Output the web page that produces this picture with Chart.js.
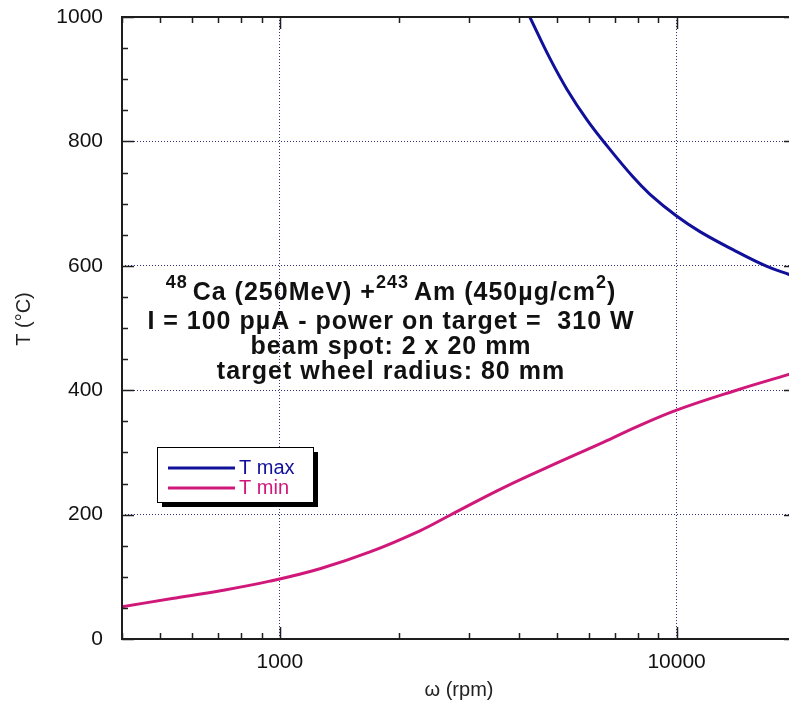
<!DOCTYPE html>
<html>
<head>
<meta charset="utf-8">
<script src="https://cdn.jsdelivr.net/npm/chart.js@4/dist/chart.umd.min.js"></script>
<style>
  html, body { margin: 0; padding: 0; overflow: hidden; background: #fff; }
</style>
</head>
<body>
<canvas id="chart" width="810" height="709"></canvas>
<script>
// values
const tmaxRpm = [4266, 4798, 5290, 5940, 6637, 7762, 8570, 10000, 11450, 13870, 16900, 19230, 20000]
const tmaxVal = [1000, 933, 884, 835, 795, 743, 715, 680, 655, 626, 599, 586, 582]
const tminRpm = [400, 535, 714, 944, 1262, 1687, 2254, 2683, 3654, 5080, 6530, 7925, 10000, 14160, 19100, 20000]
const tminVal = [52, 65, 78, 93, 113, 140, 174, 199, 243, 285, 316, 341, 368, 400, 425, 429]

const xTicks = [400, 500, 600, 700, 800, 900, 1000, 2000, 3000, 4000, 5000, 6000, 7000, 8000, 9000, 10000, 20000]
const xLabels = [1000, 10000]
const yTicks = [0, 50, 100, 150, 200, 250, 300, 350, 400, 450, 500, 550, 600, 650, 700, 750, 800, 850, 900, 950, 1000]
const yLabels = [0, 200, 400, 600, 800, 1000]

// [text, superscript?, gap after]
const noteLines = [
  [["48", true, 5], ["Ca (250MeV) +", false, 0], ["243", true, 5], ["Am (450µg/cm", false, 0], ["2", true, 0], [")", false, 0]],
  [["I = 100 pµA - power on target =  310 W", false, 0]],
  [["beam spot: 2 x 20 mm", false, 0]],
  [["target wheel radius: 80 mm", false, 0]],
]
const noteY = [293, 322, 347, 372]

const gridColor = "#30307e"
const font = "Liberation Sans, Arial, sans-serif"

function toPoints(xs, ys) {
  return xs.map((v, i) => ({ x: v, y: ys[i] }))
}

// frame, inside ticks, y title, note text and the boxed legend
const decorPlugin = {
  id: "decor",
  afterDatasetsDraw(chart) {
    const { ctx, chartArea: a, scales } = chart
    const x = scales.x
    const y = scales.y
    ctx.save()
    ctx.strokeStyle = "#1e1e1e"
    ctx.lineWidth = 2
    ctx.strokeRect(a.left, a.top, a.right - a.left, a.bottom - a.top)

    ctx.lineWidth = 1.5
    ctx.beginPath()
    xTicks.forEach(function (v) {
      const px = Math.round(x.getPixelForValue(v)) + 0.5
      const len = xLabels.includes(v) ? 12 : 6
      ctx.moveTo(px, a.bottom)
      ctx.lineTo(px, a.bottom - len)
      ctx.moveTo(px, a.top)
      ctx.lineTo(px, a.top + len)
    })
    yTicks.forEach(function (v) {
      const py = Math.round(y.getPixelForValue(v)) + 0.5
      const len = yLabels.includes(v) ? 12 : 6
      ctx.moveTo(a.left, py)
      ctx.lineTo(a.left + len, py)
      ctx.moveTo(a.right, py)
      ctx.lineTo(a.right - len, py)
    })
    ctx.stroke()

    // y title
    ctx.save()
    ctx.translate(24, 319)
    ctx.rotate(-Math.PI / 2)
    ctx.fillStyle = "#222"
    ctx.font = "20px " + font
    ctx.textAlign = "center"
    ctx.textBaseline = "middle"
    ctx.fillText("T (°C)", 0, 0)
    ctx.restore()

    // note text
    ctx.fillStyle = "#111"
    ctx.textBaseline = "middle"
    ctx.textAlign = "left"
    ctx.letterSpacing = "1px"
    noteLines.forEach(function (line, i) {
      const cy = noteY[i]
      const widths = line.map(function (seg) {
        ctx.font = seg[1] ? "bold 18px " + font : "bold 25px " + font
        return ctx.measureText(seg[0]).width + seg[2]
      })
      const total = widths.reduce((s, w) => s + w, 0)
      let cx = 391 - total / 2
      line.forEach(function (seg, k) {
        ctx.font = seg[1] ? "bold 18px " + font : "bold 25px " + font
        ctx.fillText(seg[0], cx, seg[1] ? cy - 10 : cy)
        cx += widths[k]
      })
    })
    ctx.letterSpacing = "0px"

    // legend box
    const bx = 157, by = 447, bw = 156, bh = 55
    ctx.fillStyle = "#000"
    ctx.fillRect(bx + 5, by + 5, bw, bh)
    ctx.fillStyle = "#fff"
    ctx.fillRect(bx, by, bw, bh)
    ctx.strokeStyle = "#000"
    ctx.lineWidth = 1
    ctx.strokeRect(bx + 0.5, by + 0.5, bw, bh)
    ctx.font = "20px " + font
    chart.data.datasets.forEach(function (ds, i) {
      const ly = by + 21 + i * 20
      ctx.strokeStyle = ds.borderColor
      ctx.lineWidth = 3
      ctx.beginPath()
      ctx.moveTo(bx + 11, ly)
      ctx.lineTo(bx + 78, ly)
      ctx.stroke()
      ctx.fillStyle = ds.borderColor
      ctx.fillText(ds.label, bx + 82, ly)
    })
    ctx.restore()
  },
}

const canvasRef = document.getElementById("chart")
const myChart = new Chart(canvasRef, {
  type: "line",
  data: {
    datasets: [
      {
        label: "T max",
        data: toPoints(tmaxRpm, tmaxVal),
        borderColor: "#10109a",
        borderWidth: 3,
        pointRadius: 0,
        tension: 0.4,
      },
      {
        label: "T min",
        data: toPoints(tminRpm, tminVal),
        borderColor: "#d0187a",
        borderWidth: 3,
        pointRadius: 0,
        tension: 0.4,
      },
    ],
  },
  options: {
    responsive: false,
    animation: false,
    layout: { padding: { top: 17, right: 14, left: 0, bottom: 0 } },
    plugins: { legend: { display: false }, tooltip: { enabled: false } },
    scales: {
      x: {
        type: "logarithmic",
        min: 400,
        max: 20000,
        afterBuildTicks: function (s) {
          s.ticks = xTicks.map((v) => ({ value: v }))
        },
        afterFit: function (s) {
          s.height = 70
          s.paddingLeft = 0
          s.paddingRight = 0
        },
        ticks: {
          autoSkip: false,
          maxRotation: 0,
          padding: 11,
          color: "#111",
          font: { family: font, size: 21 },
          callback: (v) => (xLabels.includes(v) ? String(v) : ""),
        },
        grid: {
          drawTicks: false,
          lineWidth: 1,
          color: (c) => (c.tick && xLabels.includes(c.tick.value) ? gridColor : "rgba(0,0,0,0)"),
        },
        border: { display: false, dash: [1, 2] },
        title: {
          display: true,
          text: "ω (rpm)",
          color: "#222",
          font: { family: font, size: 20 },
          padding: { top: 0, bottom: 7 },
        },
      },
      y: {
        min: 0,
        max: 1000,
        afterBuildTicks: function (s) {
          s.ticks = yTicks.map((v) => ({ value: v }))
        },
        afterFit: function (s) {
          s.width = 122
          s.paddingTop = 0
          s.paddingBottom = 0
        },
        ticks: {
          autoSkip: false,
          padding: 19,
          color: "#111",
          font: { family: font, size: 21 },
          callback: (v) => (yLabels.includes(v) ? String(v) : ""),
        },
        grid: {
          drawTicks: false,
          lineWidth: 1,
          color: (c) =>
            c.tick && yLabels.includes(c.tick.value) && c.tick.value > 0 && c.tick.value < 1000
              ? gridColor
              : "rgba(0,0,0,0)",
        },
        border: { display: false, dash: [1, 2] },
        title: { display: false },
      },
    },
  },
  plugins: [decorPlugin],
})
</script>
</body>
</html>
